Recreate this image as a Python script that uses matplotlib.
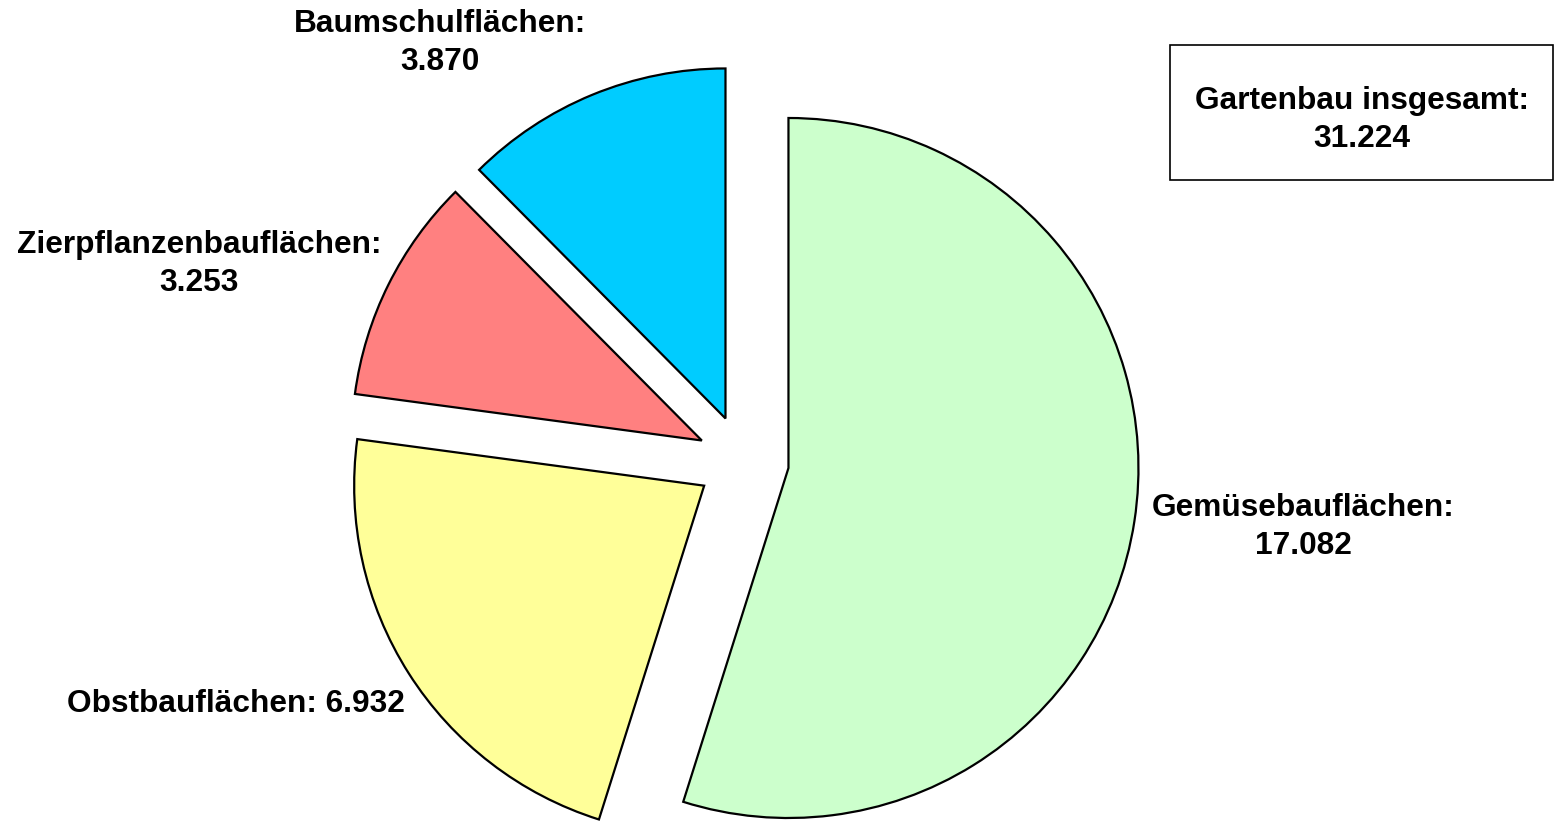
#Gartenbauflaechen pie chart
#values in ha, German thousands separator
import matplotlib
matplotlib.use('Agg')
import matplotlib.pyplot as plt
from matplotlib.patches import Rectangle

#Data
names = ['Gemüsebauflächen', 'Obstbauflächen',
         'Zierpflanzenbauflächen', 'Baumschulflächen']
areas = [17082, 6932, 3253, 3870]
total = 31224
colors = ['#CCFFCC', '#FFFF99', '#FF8080', '#00CCFF']

def de(v):
    return f'{v:,}'.replace(',', '.')

plt.rcParams['font.family'] = ['Liberation Sans', 'DejaVu Sans']
W, H = 1557, 821
fig = plt.figure(figsize=(W/100, H/100), dpi=100)
ax = fig.add_axes([0, 0, 1, 1])

ax.pie(areas, colors=colors, startangle=90, counterclock=False,
       center=(743, H-461), radius=350, explode=[46]*4,
       wedgeprops=dict(edgecolor='black', linewidth=1.6), frame=True)
ax.set_xlim(0, W)
ax.set_ylim(0, H)
ax.set_aspect('equal')
ax.axis('off')

fs = 22.8
txt = dict(ha='center', va='center', fontsize=fs, fontweight='bold',
           color='black', linespacing=1.35)
ax.text(1303, H-527, f'{names[0]}:\n{de(areas[0])}', **txt)
ax.text(236, H-704, f'{names[1]}: {de(areas[1])}', **txt)
ax.text(199, H-264, f'{names[2]}:\n{de(areas[2])}', **txt)
ax.text(440, H-43, f'{names[3]}:\n{de(areas[3])}', **txt)

ax.add_patch(Rectangle((1170, H-180), 383, 135, facecolor='white',
                       edgecolor='black', linewidth=1.2))
ax.text(1362, H-120, f'Gartenbau insgesamt:\n{de(total)}', **txt)

fig.savefig('out.png', dpi=100)
# End of Python script
